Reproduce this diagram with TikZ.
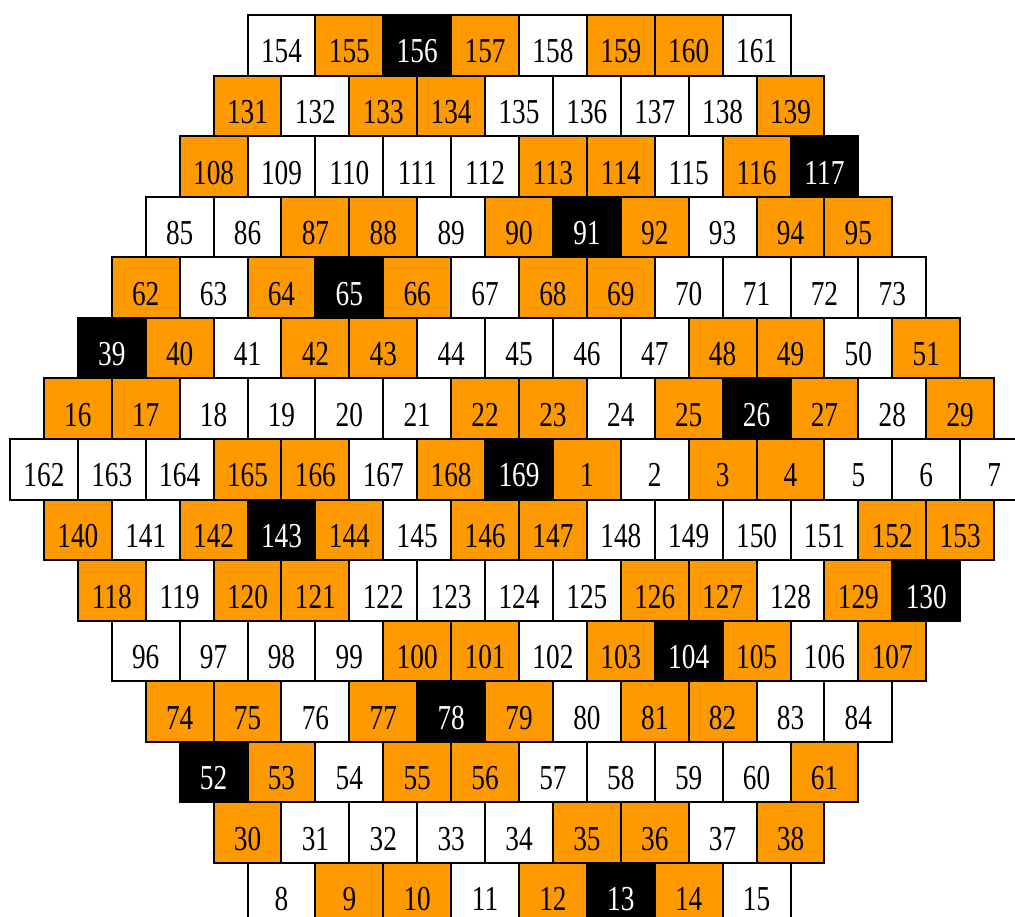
\documentclass[tikz,border=0pt]{standalone}
\usepackage{fontspec}
\newfontfamily\numfont{Liberation Serif}[FakeStretch=0.78]
\definecolor{cor}{RGB}{255,153,0}
\tikzset{
  cellbase/.style={rectangle, draw=black, line width=2pt, minimum width=67.87pt, minimum height=60.57pt,
     inner sep=0pt, outer sep=0pt, text height=35.4pt, text depth=0pt,
     font=\numfont\fontsize{35}{40}\selectfont},
  cellW/.style={cellbase, fill=white, text=black},
  cellO/.style={cellbase, fill=cor, text=black},
  cellB/.style={cellbase, fill=black, text=white},
}
\begin{document}
\begin{tikzpicture}[x=1pt,y=-1pt]
\clip (0,0) rectangle (1015,916);
\fill[white] (0,0) rectangle (1015,916);
\foreach \r/\cells in {%
 0/{154/W,155/O,156/B,157/O,158/W,159/O,160/O,161/W},%
 1/{131/O,132/W,133/O,134/O,135/W,136/W,137/W,138/W,139/O},%
 2/{108/O,109/W,110/W,111/W,112/W,113/O,114/O,115/W,116/O,117/B},%
 3/{85/W,86/W,87/O,88/O,89/W,90/O,91/B,92/O,93/W,94/O,95/O},%
 4/{62/O,63/W,64/O,65/B,66/O,67/W,68/O,69/O,70/W,71/W,72/W,73/W},%
 5/{39/B,40/O,41/W,42/O,43/O,44/W,45/W,46/W,47/W,48/O,49/O,50/W,51/O},%
 6/{16/O,17/O,18/W,19/W,20/W,21/W,22/O,23/O,24/W,25/O,26/B,27/O,28/W,29/O},%
 7/{162/W,163/W,164/W,165/O,166/O,167/W,168/O,169/B,1/O,2/W,3/O,4/O,5/W,6/W,7/W},%
 8/{140/O,141/W,142/O,143/B,144/O,145/W,146/O,147/O,148/W,149/W,150/W,151/W,152/O,153/O},%
 9/{118/O,119/W,120/O,121/O,122/W,123/W,124/W,125/W,126/O,127/O,128/W,129/O,130/B},%
 10/{96/W,97/W,98/W,99/W,100/O,101/O,102/W,103/O,104/B,105/O,106/W,107/O},%
 11/{74/O,75/O,76/W,77/O,78/B,79/O,80/W,81/O,82/O,83/W,84/W},%
 12/{52/B,53/O,54/W,55/O,56/O,57/W,58/W,59/W,60/W,61/O},%
 13/{30/O,31/W,32/W,33/W,34/W,35/O,36/O,37/W,38/O},%
 14/{8/W,9/O,10/O,11/W,12/O,13/B,14/O,15/W}%
}{%
  \foreach [count=\i from 0] \n/\c in \cells {%
    \pgfmathsetmacro{\xx}{10 + abs(7-\r)*33.935 + \i*67.87 + 33.935}%
    \pgfmathsetmacro{\yy}{15 + \r*60.57 + 30.285}%
    \node[cell\c] (c\n) at (\xx,\yy) {\n};%
  }%
}
\end{tikzpicture}
\end{document}
